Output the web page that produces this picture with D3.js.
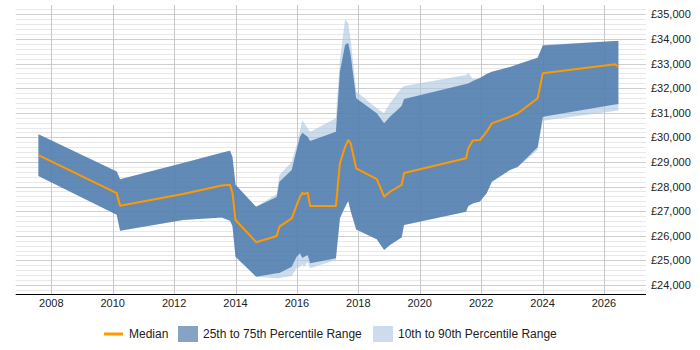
<!DOCTYPE html>
<html>
<head>
<meta charset="utf-8">
<script src="https://cdn.jsdelivr.net/npm/d3@7"></script>
<style>
  body { margin: 0; background: #fff; }
  .chart text { font-family: "Liberation Sans", Arial, sans-serif; fill: #222; }
</style>
</head>
<body>
<div class="chart"></div>
<script>
// data (decimal years, salaries in GBP)
const years = [2007.58, 2010.13, 2010.24, 2012.29, 2013.55, 2013.82, 2013.90, 2014.00, 2014.67, 2015.34,
               2015.43, 2015.83, 2015.99, 2016.10, 2016.18, 2016.23, 2016.35, 2016.43, 2017.27, 2017.40,
               2017.57, 2017.67, 2017.75, 2017.93, 2018.60, 2018.84, 2019.03, 2019.41, 2019.49, 2021.51,
               2021.58, 2021.73, 2021.96, 2022.18, 2022.35, 2022.94, 2023.20, 2023.84, 2024.01, 2026.36,
               2026.47];
const p90 = [30130, 28610, 28300, 28960, 29370, 29460, 29200, 28070, 27180, 27700,
             28470, 29010, 29690, 30300, 30710, 30590, 30370, 30230, 30780, 33150,
             34800, 34640, 33960, 31860, 31180, 30980, 31390, 32010, 32090, 32540,
             32630, 32370, 32410, 32580, 32670, 32860, 32970, 33240, 33760, 33920,
             33920];
const p75 = [30130, 28610, 28300, 28960, 29370, 29460, 29200, 28070, 27180, 27580,
             28200, 28670, 29490, 30030, 30190, 30140, 30030, 29850, 30230, 32670,
             33760, 33840, 33350, 31590, 30980, 30570, 30840, 31280, 31560, 32170,
             32190, 32290, 32410, 32580, 32670, 32860, 32970, 33240, 33730, 33920,
             33920];
const median = [29280, 27730, 27220, 27700, 28040, 28070, 27740, 26640, 25740, 25990,
                26370, 26710, 27240, 27590, 27750, 27700, 27750, 27210, 27210, 28950,
                29620, 29890, 29760, 28740, 28300, 27590, 27790, 28070, 28550, 29150,
                29560, 29870, 29890, 30230, 30570, 30840, 30980, 31590, 32610, 32970,
                32870];
const p25 = [28430, 26850, 26200, 26640, 26740, 26610, 26400, 25150, 24340, 24480,
             24490, 24740, 25150, 25290, 25100, 25140, 25220, 24880, 25090, 26710,
             27180, 27410, 27010, 26260, 25860, 25420, 25630, 25930, 26440, 26980,
             27210, 27310, 27390, 27730, 28200, 28670, 28810, 29600, 30840, 31340,
             31360];
const p10 = [28430, 26850, 26200, 26640, 26740, 26610, 26400, 25150, 24340, 24270,
             24280, 24370, 24690, 24740, 24850, 24730, 24930, 24680, 25020, 26710,
             27180, 27410, 27010, 26260, 25860, 25420, 25630, 25930, 26440, 26980,
             27210, 27310, 27390, 27730, 28200, 28670, 28810, 29490, 30680, 31070,
             31090];

const xTicks = [2008, 2010, 2012, 2014, 2016, 2018, 2020, 2022, 2024, 2026];
const yTicks = [24000, 25000, 26000, 27000, 28000, 29000, 30000, 31000, 32000, 33000, 34000, 35000];
const legendItems = ["Median", "25th to 75th Percentile Range", "10th to 90th Percentile Range"];

var width = 700;
var height = 350;
var plot = { left: 15.7, right: 646, top: 5, bottom: 294 };

const svg = d3.select(".chart")
  .append("svg")
  .attr("width", width)
  .attr("height", height);

const x = d3.scaleLinear().domain([2006.84, 2027.37]).range([plot.left, plot.right]);
const y = d3.scaleLinear().domain([23634, 35380]).range([plot.bottom, plot.top]);

const rows = years.map((yr, i) => ({ yr: yr, p10: p10[i], p25: p25[i], p50: median[i], p75: p75[i], p90: p90[i] }));

// minor grid every 200
const minor = d3.range(23800, 35400, 200).filter(v => v % 1000 !== 0);
svg.append("g").selectAll("line")
  .data(minor)
  .enter().append("line")
  .attr("x1", plot.left).attr("x2", plot.right)
  .attr("y1", d => Math.round(y(d)) + 0.5).attr("y2", d => Math.round(y(d)) + 0.5)
  .attr("stroke", "#e8e8e8");

// major grid
svg.append("g").selectAll("line")
  .data(yTicks)
  .enter().append("line")
  .attr("x1", plot.left).attr("x2", plot.right)
  .attr("y1", d => Math.round(y(d)) + 0.5).attr("y2", d => Math.round(y(d)) + 0.5)
  .attr("stroke", "#cfcfcf");

// vertical grid
svg.append("g").selectAll("line")
  .data(xTicks)
  .enter().append("line")
  .attr("x1", d => Math.round(x(d)) + 0.5).attr("x2", d => Math.round(x(d)) + 0.5)
  .attr("y1", plot.top).attr("y2", plot.bottom)
  .attr("stroke", "#c8c8c8");

// 10-90 band
svg.append("path")
  .datum(rows)
  .attr("fill", "#a9c4e0")
  .attr("fill-opacity", 0.6)
  .attr("d", d3.area().x(d => x(d.yr)).y0(d => y(d.p10)).y1(d => y(d.p90)));

// 25-75 band
svg.append("path")
  .datum(rows)
  .attr("fill", "#3f6fa6")
  .attr("fill-opacity", 0.75)
  .attr("d", d3.area().x(d => x(d.yr)).y0(d => y(d.p25)).y1(d => y(d.p75)));

// median
svg.append("path")
  .datum(rows)
  .attr("fill", "none")
  .attr("stroke", "#ff9900")
  .attr("stroke-width", 2)
  .attr("stroke-linejoin", "round")
  .attr("d", d3.line().x(d => x(d.yr)).y(d => y(d.p50)));

// x axis line
svg.append("line")
  .attr("x1", plot.left).attr("x2", plot.right)
  .attr("y1", plot.bottom + 0.5).attr("y2", plot.bottom + 0.5)
  .attr("stroke", "#000");

svg.append("g").selectAll("text")
  .data(xTicks)
  .enter().append("text")
  .attr("x", d => x(d))
  .attr("y", 307)
  .attr("text-anchor", "middle")
  .attr("font-size", 11)
  .text(d => d);

// y labels on the right
svg.append("g").selectAll("text")
  .data(yTicks)
  .enter().append("text")
  .attr("x", 651)
  .attr("y", d => y(d) + 4)
  .attr("font-size", 11)
  .text(d => "£" + d3.format(",")(d));

// legend
const legend = svg.append("g").attr("transform", "translate(0,334)");
legend.append("line")
  .attr("x1", 104).attr("x2", 123).attr("y1", 0).attr("y2", 0)
  .attr("stroke", "#ff9900").attr("stroke-width", 3);
legend.append("rect")
  .attr("x", 178).attr("y", -8).attr("width", 20).attr("height", 16)
  .attr("fill", "#86a3c6");
legend.append("rect")
  .attr("x", 373).attr("y", -8).attr("width", 20).attr("height", 16)
  .attr("fill", "#cddcec");
legend.selectAll("text")
  .data(legendItems)
  .enter().append("text")
  .attr("x", (d, i) => [129, 203, 398][i])
  .attr("y", 4)
  .attr("font-size", 12)
  .text(d => d);
</script>
</body>
</html>
